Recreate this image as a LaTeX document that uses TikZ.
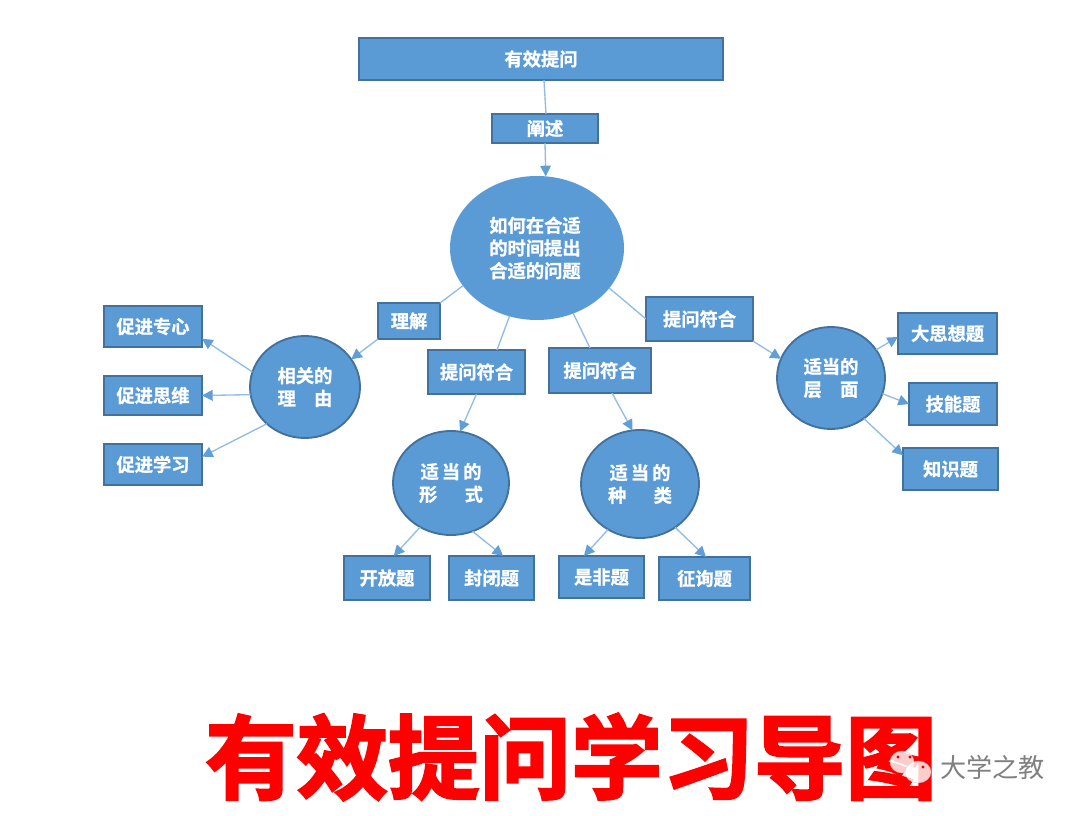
\documentclass[tikz,border=0pt]{standalone}
\usepackage{fontspec}
\setmainfont{Noto Sans CJK SC}
\newfontfamily\cjkbold[FakeBold=1]{Noto Sans CJK SC Bold}
\newfontfamily\cjktitle[FakeBold=2.5]{Noto Sans CJK SC Bold}
\newfontfamily\cjkplain{Noto Sans CJK SC}
\usetikzlibrary{arrows.meta,shapes.geometric}
\definecolor{bluefill}{HTML}{5B9BD5}
\definecolor{blueedge}{HTML}{41719C}
\definecolor{blueline}{HTML}{8FBDE6}
\tikzset{
  x=0.75pt,y=-0.75pt,
  label text/.style={text=white,font=\cjkbold\fontsize{13.7pt}{17pt}\selectfont,align=center,inner sep=0pt,outer sep=0pt},
  box/.style={label text,rectangle,draw=blueedge,line width=1.4pt,fill=bluefill},
  oval/.style={label text,ellipse,draw=blueedge,line width=1.4pt,fill=bluefill},
  link/.style={draw=blueline,line width=1pt},
  linkarrow/.style={link,-{Triangle[length=8pt,width=8pt,color=bluefill!90!blueline,fill=bluefill!90!blueline]}},
  bubble/.style={fill=white,fill opacity=.8,draw=black!25,draw opacity=.6,line width=.4pt},
}
\newcommand{\boxnode}[7]{% name, x1,y1,x2,y2, text, extra
  \node[box,#7,minimum width={(#4-#2)*0.75pt},minimum height={(#5-#3)*0.75pt}] (#1) at ({(#2+#4)/2},{(#3+#5)/2}) {#6};}
\newcommand{\ovalnode}[6]{% name, cx, cy, rx, ry, text
  \node[oval,minimum width={#4*1.5pt},minimum height={#5*1.5pt}] (#1) at (#2,#3) {#6};}
\begin{document}
\begin{tikzpicture}
\useasboundingbox (0,0) rectangle (1080,816);
\fill[white] (0,0) rectangle (1080,816);
\boxnode{title}{359}{38}{723}{80}{有效提问}{}
\boxnode{desc}{492}{114}{598}{143}{阐述}{}
\node[oval,draw=none,minimum width=130.5pt,minimum height=108pt] (root) at (537,248) {\hspace{-3pt}如何在合适\\\hspace{-3pt}的时间提出\\\hspace{-3pt}合适的问题};
\boxnode{understand}{378}{303}{440}{339}{理解}{}
\boxnode{fitA}{428}{350}{525}{394}{提问符合}{}
\boxnode{fitB}{549}{348}{651}{393}{提问符合}{}
\boxnode{fitC}{646}{297}{753}{341}{提问符合}{}
\ovalnode{reason}{305}{387}{55}{51}{相关的\\理　由}
\ovalnode{form}{451}{483}{58}{52}{适\,当\,的\\形\hspace{1.5em}式}
\ovalnode{kind}{640}{484}{59}{54}{适\,当\,的\\种\hspace{1.5em}类}
\ovalnode{level}{831}{378}{54}{51}{适当的\\层　面}
\boxnode{focus}{104}{306}{202}{347}{促进专心}{}
\boxnode{think}{104}{376}{202}{415}{促进思维}{}
\boxnode{learn}{104}{444}{202}{485}{促进学习}{}
\boxnode{big}{898}{313}{997}{354}{大思想题}{}
\boxnode{skill}{909}{383}{997}{425}{技能题}{}
\boxnode{know}{903}{448}{998}{490}{知识题}{}
\boxnode{open}{344}{556}{430}{600}{开放题}{}
\boxnode{closed}{449}{556}{534}{600}{封闭题}{}
\boxnode{yesno}{559}{556}{644}{598}{是非题}{}
\boxnode{ask}{659}{557}{750}{600}{征询题}{}
% connectors
\draw[link] (title.-82) -- (desc.86);
\draw[linkarrow] (desc.south) -- (root.83);
\draw[link] (root.207.8) -- (understand.north east);
\draw[linkarrow] (understand.south west) -- (reason.31.7);
\draw[link] (root.248.7) -- (fitA.47);
\draw[linkarrow] (fitA.south) -- (form.80.4);
\draw[link] (root.-61.1) -- (fitB.114);
\draw[linkarrow] (fitB.-62) -- (kind.98.4);
\draw[link] (root.-29.6) -- (fitC.west);
\draw[linkarrow] (fitC.south east) -- (level.159.3);
\draw[linkarrow] (reason.164.2) -- (focus.-14.3);
\draw[linkarrow] (reason.188.3) -- (think.east);
\draw[linkarrow] (reason.224.3) -- (learn.9.8);
\draw[linkarrow] (form.235.4) -- (open.73);
\draw[linkarrow] (form.-66.4) -- (closed.62);
\draw[linkarrow] (kind.235.8) -- (yesno.130);
\draw[linkarrow] (kind.-51.5) -- (ask.86);
\draw[linkarrow] (level.32.2) -- (big.184);
\draw[linkarrow] (level.-17.8) -- (skill.west);
\draw[linkarrow] (level.-51) -- (know.164.7);
% big title
\node[inner sep=0pt,text=red,font=\cjktitle\fontsize{68.6pt}{69pt}\selectfont] (bigtitle) at (571,757) {有效提问学习导图};
% watermark
\path[bubble] (902,762) ellipse [x radius=12,y radius=11];
\path[bubble] (918,772) ellipse [x radius=13,y radius=11];
\fill[red!85!black] (898,757) circle [radius=1.7];
\fill[red!85!black] (910,757) circle [radius=1.7];
\fill[red!85!black] (923,767) circle [radius=1.6];
\node[inner sep=0pt,text=black!50,font=\cjkplain\fontsize{19.6pt}{20pt}\selectfont] (mark) at (992.5,767) {大学之教};
\end{tikzpicture}
\end{document}
